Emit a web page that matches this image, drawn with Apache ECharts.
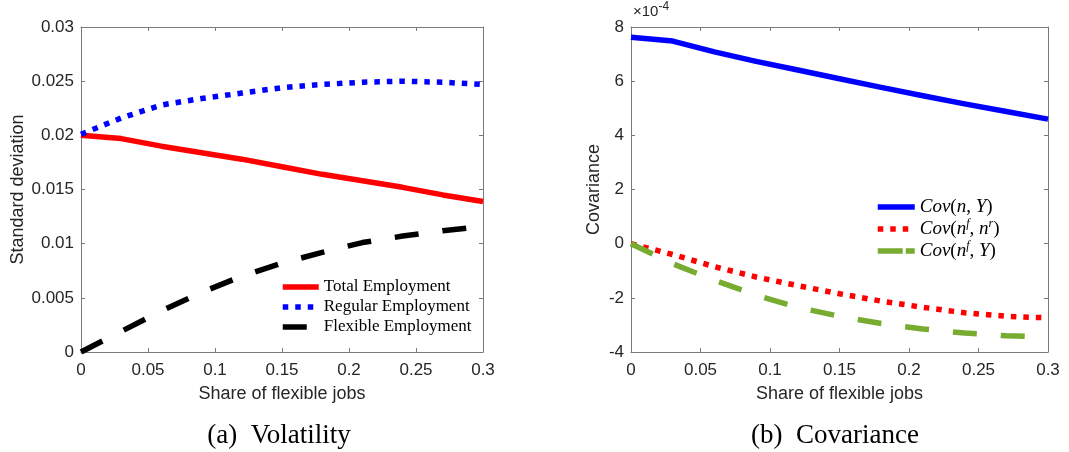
<!DOCTYPE html>
<html>
<head>
<meta charset="utf-8">
<title>Volatility and covariance by share of flexible jobs</title>
<script src="https://cdn.jsdelivr.net/npm/echarts@6/dist/echarts.min.js"></script>
<style>
  html, body { margin: 0; padding: 0; background: #ffffff; }
  #chart { width: 1069px; height: 452px; }
</style>
</head>
<body>
<div id="chart"></div>
<script>
// Share of flexible jobs (model grid)
const shareFlex = [0, 0.03, 0.06, 0.09, 0.12, 0.15, 0.18, 0.21, 0.24, 0.27, 0.30];

// Panel (a): standard deviations
const totalEmployment    = [0.0200, 0.0197, 0.0190, 0.0184, 0.0178, 0.0171, 0.0164, 0.0158, 0.0152, 0.0145, 0.0139];
const regularEmployment  = [0.0201, 0.0216, 0.0228, 0.0234, 0.0239, 0.0244, 0.0247, 0.0249, 0.0250, 0.0249, 0.0247];
const flexibleEmployment = [0.0000, 0.0019, 0.0038, 0.0055, 0.0070, 0.0082, 0.0092, 0.0101, 0.0107, 0.0112, 0.0116];

// Panel (b): covariances, in units of 1e-4
const covNY    = [7.62, 7.48, 7.08, 6.73, 6.41, 6.09, 5.77, 5.46, 5.16, 4.88, 4.60];
const covNfNr  = [0.00, -0.40, -0.85, -1.23, -1.55, -1.85, -2.12, -2.35, -2.55, -2.68, -2.74];
const covNfY   = [0.00, -0.74, -1.35, -1.90, -2.35, -2.68, -2.95, -3.15, -3.30, -3.40, -3.45];

// Axis ranges and tick steps
const xTicks = { min: 0, max: 0.3, interval: 0.05 };
const yTicksA = { min: 0, max: 0.03, interval: 0.005 };
const yTicksB = { min: -4, max: 8, interval: 2 };

const labelsA = ['Total Employment', 'Regular Employment', 'Flexible Employment'];
const labelsB = ['Cov(n,Y)', 'Cov(nf,nr)', 'Cov(nf,Y)'];
const richLabelsB = {
  'Cov(n,Y)':   '{i|Cov}{r|(}{i|n}{r|, }{i|Y}{r|)}',
  'Cov(nf,nr)': '{i|Cov}{r|(}{i|n}{s|f}{r|, }{i|n}{s|r}{r|)}',
  'Cov(nf,Y)':  '{i|Cov}{r|(}{i|n}{s|f}{r|, }{i|Y}{r|)}'
};
const captions = ['(a)  Volatility', '(b)  Covariance'];
const xTitle = 'Share of flexible jobs';
const yTitles = ['Standard deviation', 'Covariance'];

const pairs = (ys) => shareFlex.map((x, i) => [x, ys[i]]);

const AXIS_COLOR = '#7a7a7a';
const TEXT_COLOR = '#262626';
const SANS = '"Liberation Sans", Arial, sans-serif';
const SERIF = '"Liberation Serif", "Times New Roman", serif';
const LINE_W = 5.5;
const DOTTED = [5.5, 7];
const DASHED = [24, 24];

function mainX(gridIndex) {
  return {
    type: 'value', gridIndex, ...xTicks,
    name: xTitle, nameLocation: 'middle', nameGap: 33,
    nameTextStyle: { fontFamily: SANS, fontSize: 18, color: TEXT_COLOR },
    axisLine: { show: true, onZero: false, lineStyle: { color: AXIS_COLOR, width: 1 } },
    axisTick: { show: true, inside: true, length: 4, lineStyle: { color: AXIS_COLOR } },
    axisLabel: { fontFamily: SANS, fontSize: 17, color: TEXT_COLOR, margin: 10 },
    splitLine: { show: false }
  };
}
function mirrorX(gridIndex) {
  return {
    type: 'value', gridIndex, position: 'top', ...xTicks,
    axisLine: { show: true, onZero: false, lineStyle: { color: AXIS_COLOR, width: 1 } },
    axisTick: { show: true, inside: true, length: 4, lineStyle: { color: AXIS_COLOR } },
    axisLabel: { show: false }, splitLine: { show: false }
  };
}
function mainY(gridIndex, ticks, title, gap) {
  return {
    type: 'value', gridIndex, ...ticks,
    name: title, nameLocation: 'middle', nameGap: gap,
    nameTextStyle: { fontFamily: SANS, fontSize: 18, color: TEXT_COLOR },
    axisLine: { show: true, onZero: false, lineStyle: { color: AXIS_COLOR, width: 1 } },
    axisTick: { show: true, inside: true, length: 4, lineStyle: { color: AXIS_COLOR } },
    axisLabel: { fontFamily: SANS, fontSize: 17, color: TEXT_COLOR, margin: 7 },
    splitLine: { show: false }
  };
}
function mirrorY(gridIndex, ticks) {
  return {
    type: 'value', gridIndex, position: 'right', ...ticks,
    axisLine: { show: true, onZero: false, lineStyle: { color: AXIS_COLOR, width: 1 } },
    axisTick: { show: true, inside: true, length: 4, lineStyle: { color: AXIS_COLOR } },
    axisLabel: { show: false }, splitLine: { show: false }
  };
}

function line(name, data, xi, yi, color, dash) {
  return {
    type: 'line', name, data: pairs(data),
    xAxisIndex: xi, yAxisIndex: yi,
    symbol: 'none', showSymbol: false, clip: true, silent: true,
    lineStyle: { color, width: LINE_W, type: dash, cap: 'butt', join: 'round' },
    itemStyle: { color },
    emphasis: { disabled: true }
  };
}

const chart = echarts.init(document.getElementById('chart'), null, { renderer: 'canvas' });
chart.setOption({
  animation: false,
  backgroundColor: '#ffffff',
  grid: [
    { left: 81, top: 27, width: 402, height: 325 },
    { left: 631, top: 27, width: 417, height: 325 }
  ],
  xAxis: [mainX(0), mainX(1), mirrorX(0), mirrorX(1)],
  yAxis: [
    mainY(0, yTicksA, yTitles[0], 54),
    mainY(1, yTicksB, yTitles[1], 28),
    mirrorY(0, yTicksA),
    mirrorY(1, yTicksB)
  ],
  legend: [
    {
      data: labelsA, orient: 'vertical', left: 280, top: 277, padding: 0, itemGap: 0,
      itemWidth: 36, itemHeight: 14, selectedMode: false,
      itemStyle: { opacity: 0 },
      lineStyle: { width: LINE_W },
      textStyle: { fontFamily: SERIF, fontSize: 17, color: '#000', lineHeight: 20 }
    },
    {
      data: [
        { name: labelsB[0] },
        { name: labelsB[1] },
        { name: labelsB[2], lineStyle: { type: [25, 3] } }
      ],
      orient: 'vertical', left: 875, top: 196, padding: 0, itemGap: 0,
      itemWidth: 37, itemHeight: 14, selectedMode: false,
      itemStyle: { opacity: 0 },
      lineStyle: { width: LINE_W },
      formatter: (n) => richLabelsB[n],
      textStyle: {
        color: '#000', lineHeight: 22,
        rich: {
          i: { fontFamily: SERIF, fontStyle: 'italic', fontSize: 19, color: '#000', lineHeight: 22 },
          r: { fontFamily: SERIF, fontSize: 19, color: '#000', lineHeight: 22 },
          s: { fontFamily: SERIF, fontStyle: 'italic', fontSize: 12, color: '#000', lineHeight: 12, verticalAlign: 'top' }
        }
      }
    }
  ],
  graphic: [
    {
      type: 'text', left: 633, top: 1, silent: true,
      style: {
        text: '{a|×10}{b|-4}',
        rich: {
          a: { fontFamily: SANS, fontSize: 15, fill: TEXT_COLOR, lineHeight: 18, verticalAlign: 'bottom' },
          b: { fontFamily: SANS, fontSize: 12, fill: TEXT_COLOR, lineHeight: 18, verticalAlign: 'top' }
        }
      }
    },
    {
      type: 'text', x: 279, y: 436, silent: true,
      style: { text: captions[0], fontFamily: SERIF, fontSize: 27, fill: '#000', align: 'center', verticalAlign: 'middle' }
    },
    {
      type: 'text', x: 835, y: 436, silent: true,
      style: { text: captions[1], fontFamily: SERIF, fontSize: 27, fill: '#000', align: 'center', verticalAlign: 'middle' }
    }
  ],
  series: [
    line(labelsA[0], totalEmployment, 0, 0, '#ff0000', 'solid'),
    line(labelsA[1], regularEmployment, 0, 0, '#0000ff', DOTTED),
    line(labelsA[2], flexibleEmployment, 0, 0, '#000000', DASHED),
    line(labelsB[0], covNY, 1, 1, '#0000ff', 'solid'),
    line(labelsB[1], covNfNr, 1, 1, '#ff0000', DOTTED),
    line(labelsB[2], covNfY, 1, 1, '#77ac30', DASHED)
  ]
});
</script>
</body>
</html>
